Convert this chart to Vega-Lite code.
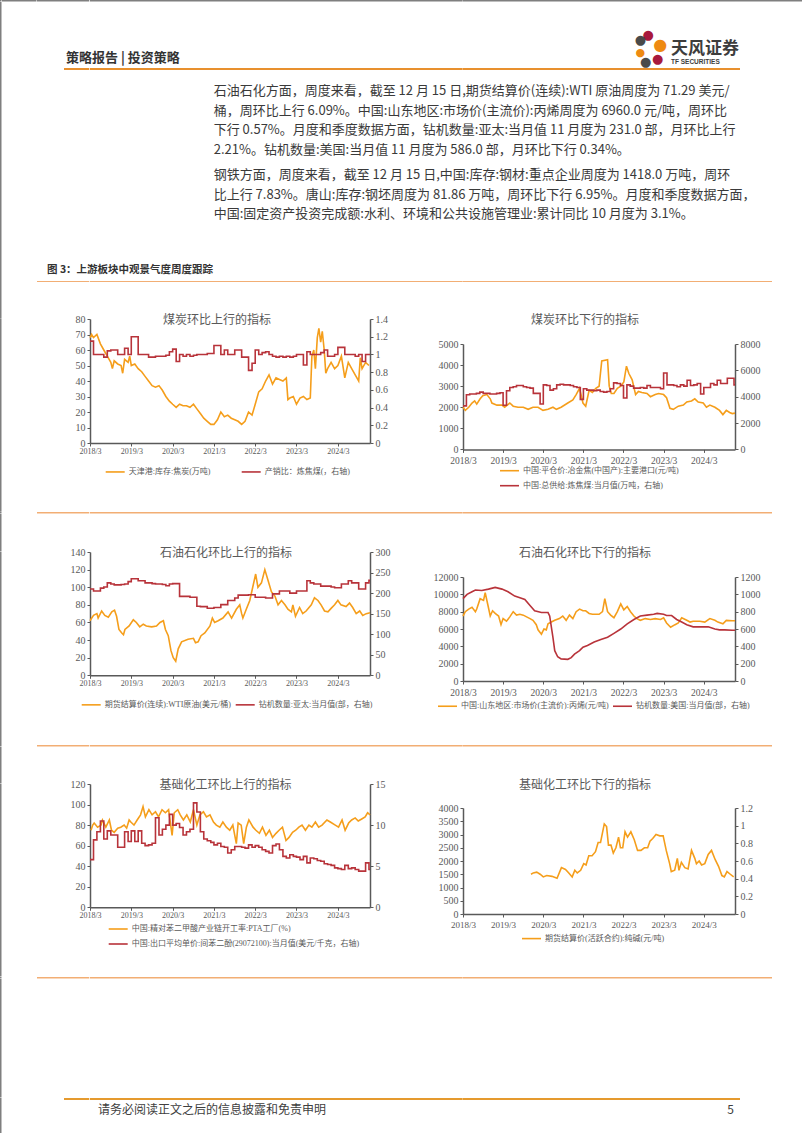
{
"$schema": "https://vega.github.io/schema/vega-lite/v6.json",
"padding": 0,
"background": "white",
"columns": 11,
"align": "each",
"bounds": "flush",
"spacing": 0,
"resolve": {"scale": {"color": "independent"}, "legend": {"color": "independent"}},
"config": {
 "view": {"stroke": null, "fill": "white", "fillOpacity": 0},
 "font": "Liberation Serif, Noto Sans CJK SC",
 "concat": {"spacing": 0},
 "axis": {"grid": false, "domainColor": "#595959", "domainWidth": 1.5, "tickColor": "#595959", "tickSize": 3, "tickWidth": 1, "labelColor": "#595959", "labelFont": "Liberation Serif, Noto Sans CJK SC", "labelFontSize": 10, "labelPadding": 2, "labelOverlap": false, "labelFlush": false},
 "legend": {"title": null, "labelFont": "Liberation Serif, Noto Sans CJK SC", "labelFontSize": 8, "labelColor": "#595959", "symbolType": "stroke", "symbolStrokeWidth": 2.5, "symbolSize": 361, "labelOffset": 3, "labelLimit": 400, "padding": 0, "rowPadding": 2},
 "title": {"font": "Noto Sans CJK SC", "fontSize": 12, "fontWeight": "normal", "color": "#595959", "frame": "group", "anchor": "middle"},
 "line": {"strokeWidth": 1.6}
},
"datasets": {
 "a1": [{"d":"2018-03","v":68},{"d":"2018-03-15","v":70},{"d":"2018-04","v":68},{"d":"2018-05","v":70},{"d":"2018-06","v":64},{"d":"2018-07","v":60},{"d":"2018-08","v":56},{"d":"2018-09","v":52},{"d":"2018-09-15","v":48},{"d":"2018-10","v":53},{"d":"2018-11","v":51},{"d":"2018-12","v":50},{"d":"2018-12-15","v":45},{"d":"2019-01","v":54},{"d":"2019-02","v":52},{"d":"2019-02-15","v":56},{"d":"2019-03","v":50},{"d":"2019-04","v":51},{"d":"2019-05","v":48},{"d":"2019-06","v":46},{"d":"2019-07","v":43},{"d":"2019-08","v":40},{"d":"2019-09","v":37},{"d":"2019-10","v":36},{"d":"2019-11","v":37},{"d":"2019-12","v":34},{"d":"2020-01","v":30},{"d":"2020-02","v":27},{"d":"2020-03","v":25},{"d":"2020-04","v":23},{"d":"2020-05","v":25},{"d":"2020-06","v":24},{"d":"2020-07","v":24},{"d":"2020-08","v":23},{"d":"2020-09","v":25},{"d":"2020-10","v":22},{"d":"2020-11","v":19},{"d":"2020-12","v":16},{"d":"2021-01","v":14},{"d":"2021-02","v":12},{"d":"2021-03","v":12},{"d":"2021-04","v":15},{"d":"2021-05","v":20},{"d":"2021-06","v":17},{"d":"2021-07","v":18},{"d":"2021-08","v":16},{"d":"2021-09","v":15},{"d":"2021-10","v":14},{"d":"2021-11","v":12},{"d":"2021-12","v":14},{"d":"2022-01","v":20},{"d":"2022-02","v":18},{"d":"2022-03","v":25},{"d":"2022-04","v":33},{"d":"2022-05","v":35},{"d":"2022-06","v":40},{"d":"2022-07","v":44},{"d":"2022-08","v":38},{"d":"2022-09","v":42},{"d":"2022-10","v":41},{"d":"2022-11","v":40},{"d":"2022-12","v":42},{"d":"2022-12-15","v":28},{"d":"2023-01","v":29},{"d":"2023-02","v":30},{"d":"2023-03","v":25},{"d":"2023-04","v":29},{"d":"2023-05","v":30},{"d":"2023-06","v":28},{"d":"2023-07","v":29},{"d":"2023-07-15","v":56},{"d":"2023-08","v":60},{"d":"2023-08-15","v":48},{"d":"2023-09","v":68},{"d":"2023-09-15","v":74},{"d":"2023-10","v":65},{"d":"2023-10-15","v":72},{"d":"2023-11","v":60},{"d":"2023-11-15","v":45},{"d":"2023-12","v":48},{"d":"2024-01","v":52},{"d":"2024-02","v":48},{"d":"2024-03","v":50},{"d":"2024-04","v":56},{"d":"2024-05","v":42},{"d":"2024-06","v":52},{"d":"2024-07","v":48},{"d":"2024-08","v":44},{"d":"2024-09","v":40},{"d":"2024-09-15","v":55},{"d":"2024-10","v":48},{"d":"2024-11","v":52},{"d":"2024-12","v":50}],
 "a2": [{"d":"2018-03","v":1.15},{"d":"2018-04","v":1.0},{"d":"2018-05","v":1.0},{"d":"2018-06","v":1.0},{"d":"2018-07","v":0.97},{"d":"2018-08","v":1.04},{"d":"2018-09","v":1.05},{"d":"2018-10","v":1.05},{"d":"2018-11","v":1.0},{"d":"2018-12","v":1.0},{"d":"2019-01","v":1.07},{"d":"2019-02","v":1.0},{"d":"2019-03","v":1.2},{"d":"2019-04","v":1.2},{"d":"2019-05","v":1.0},{"d":"2019-06","v":1.0},{"d":"2019-07","v":1.0},{"d":"2019-08","v":0.97},{"d":"2019-09","v":0.97},{"d":"2019-10","v":0.98},{"d":"2019-11","v":0.98},{"d":"2019-12","v":0.98},{"d":"2020-01","v":0.99},{"d":"2020-02","v":1.03},{"d":"2020-03","v":1.06},{"d":"2020-04","v":0.92},{"d":"2020-05","v":1.0},{"d":"2020-06","v":0.98},{"d":"2020-07","v":1.0},{"d":"2020-08","v":0.98},{"d":"2020-09","v":0.99},{"d":"2020-10","v":1.0},{"d":"2020-11","v":1.0},{"d":"2020-12","v":1.0},{"d":"2021-01","v":1.01},{"d":"2021-02","v":1.01},{"d":"2021-03","v":1.1},{"d":"2021-04","v":1.1},{"d":"2021-05","v":1.0},{"d":"2021-06","v":1.05},{"d":"2021-07","v":1.0},{"d":"2021-08","v":1.0},{"d":"2021-09","v":1.05},{"d":"2021-10","v":1.05},{"d":"2021-11","v":0.97},{"d":"2021-12","v":0.97},{"d":"2022-01","v":0.82},{"d":"2022-02","v":0.9},{"d":"2022-03","v":1.05},{"d":"2022-04","v":1.0},{"d":"2022-05","v":1.02},{"d":"2022-06","v":1.03},{"d":"2022-07","v":1.0},{"d":"2022-08","v":0.98},{"d":"2022-09","v":0.97},{"d":"2022-10","v":0.98},{"d":"2022-11","v":0.97},{"d":"2022-12","v":0.98},{"d":"2023-01","v":0.97},{"d":"2023-02","v":0.98},{"d":"2023-03","v":1.0},{"d":"2023-04","v":1.0},{"d":"2023-05","v":0.88},{"d":"2023-06","v":1.03},{"d":"2023-07","v":1.0},{"d":"2023-08","v":1.0},{"d":"2023-09","v":1.0},{"d":"2023-10","v":1.02},{"d":"2023-11","v":1.05},{"d":"2023-12","v":0.98},{"d":"2024-01","v":0.98},{"d":"2024-02","v":1.0},{"d":"2024-03","v":1.08},{"d":"2024-04","v":1.08},{"d":"2024-05","v":1.0},{"d":"2024-06","v":1.0},{"d":"2024-07","v":1.0},{"d":"2024-08","v":0.98},{"d":"2024-09","v":1.0},{"d":"2024-10","v":0.92},{"d":"2024-11","v":1.0},{"d":"2024-12","v":1.0},{"d":"2024-12-10","v":1.0}],
 "b1": [{"d":"2018-03","v":2000},{"d":"2018-03-22","v":1850},{"d":"2018-04-22","v":2000},{"d":"2018-05-22","v":2200},{"d":"2018-06-15","v":2300},{"d":"2018-07-04","v":2150},{"d":"2018-08-04","v":2400},{"d":"2018-08-28","v":2550},{"d":"2018-10-04","v":2600},{"d":"2018-11-04","v":2400},{"d":"2018-11-19","v":2200},{"d":"2019-01-04","v":2100},{"d":"2019-02-19","v":2100},{"d":"2019-03-15","v":2000},{"d":"2019-05","v":2200},{"d":"2019-06","v":2050},{"d":"2019-07-15","v":2000},{"d":"2019-09","v":2000},{"d":"2019-10-15","v":1900},{"d":"2019-11-28","v":2000},{"d":"2020-01-13","v":2000},{"d":"2020-02-27","v":1850},{"d":"2020-04-13","v":1900},{"d":"2020-05-28","v":2000},{"d":"2020-06-28","v":1900},{"d":"2020-08-10","v":2000},{"d":"2020-10-10","v":2200},{"d":"2020-11-25","v":2350},{"d":"2020-12-25","v":2600},{"d":"2021-01-25","v":2900},{"d":"2021-02-25","v":2200},{"d":"2021-03-22","v":2050},{"d":"2021-04-22","v":2800},{"d":"2021-05-22","v":2700},{"d":"2021-06-22","v":2900},{"d":"2021-07-22","v":3000},{"d":"2021-08-15","v":4200},{"d":"2021-10-07","v":4250},{"d":"2021-10-22","v":3000},{"d":"2021-11-10","v":2650},{"d":"2021-12-04","v":2650},{"d":"2022-01-04","v":2900},{"d":"2022-02-04","v":3000},{"d":"2022-03-04","v":3200},{"d":"2022-03-28","v":3950},{"d":"2022-04-19","v":3600},{"d":"2022-05-19","v":3300},{"d":"2022-06-19","v":2600},{"d":"2022-07-15","v":2750},{"d":"2022-08-15","v":2700},{"d":"2022-10","v":2650},{"d":"2022-11","v":2500},{"d":"2022-12-15","v":2600},{"d":"2023-01-15","v":2650},{"d":"2023-03","v":2600},{"d":"2023-03-28","v":2450},{"d":"2023-04-28","v":1950},{"d":"2023-05-28","v":1900},{"d":"2023-07-13","v":2050},{"d":"2023-08-28","v":2100},{"d":"2023-09-28","v":2250},{"d":"2023-11-10","v":2300},{"d":"2023-12-10","v":2400},{"d":"2024-01-10","v":2250},{"d":"2024-02-25","v":2200},{"d":"2024-03-25","v":2000},{"d":"2024-04-25","v":2100},{"d":"2024-06-10","v":2000},{"d":"2024-07-22","v":1850},{"d":"2024-08-22","v":1650},{"d":"2024-09-22","v":1850},{"d":"2024-10-22","v":1750},{"d":"2024-11-15","v":1700},{"d":"2024-12-10","v":1720}],
 "b2": [{"d":"2018-03","v":3300},{"d":"2018-04","v":4150},{"d":"2018-05","v":4200},{"d":"2018-06","v":4200},{"d":"2018-07","v":4250},{"d":"2018-08","v":4350},{"d":"2018-09","v":4250},{"d":"2018-10","v":4250},{"d":"2018-11","v":4200},{"d":"2018-12","v":4200},{"d":"2019-01","v":4250},{"d":"2019-02","v":4300},{"d":"2019-03","v":3350},{"d":"2019-04","v":4450},{"d":"2019-05","v":4700},{"d":"2019-06","v":4750},{"d":"2019-07","v":4850},{"d":"2019-08","v":4850},{"d":"2019-09","v":4750},{"d":"2019-10","v":4700},{"d":"2019-11","v":4650},{"d":"2019-12","v":4250},{"d":"2020-01","v":4250},{"d":"2020-02","v":3450},{"d":"2020-03","v":4900},{"d":"2020-04","v":4850},{"d":"2020-05","v":4500},{"d":"2020-06","v":4600},{"d":"2020-07","v":4900},{"d":"2020-08","v":4950},{"d":"2020-09","v":4900},{"d":"2020-10","v":4900},{"d":"2020-11","v":4850},{"d":"2020-12","v":4750},{"d":"2021-01","v":4700},{"d":"2021-02","v":3800},{"d":"2021-03","v":4600},{"d":"2021-04","v":4500},{"d":"2021-05","v":4500},{"d":"2021-06","v":4450},{"d":"2021-07","v":4500},{"d":"2021-08","v":4400},{"d":"2021-09","v":4350},{"d":"2021-10","v":4400},{"d":"2021-11","v":4600},{"d":"2021-12","v":5050},{"d":"2022-01","v":5000},{"d":"2022-02","v":4850},{"d":"2022-03","v":3900},{"d":"2022-04","v":4900},{"d":"2022-05","v":4800},{"d":"2022-06","v":4650},{"d":"2022-07","v":4650},{"d":"2022-08","v":4700},{"d":"2022-09","v":4650},{"d":"2022-10","v":4850},{"d":"2022-11","v":4700},{"d":"2022-12","v":4700},{"d":"2023-01","v":4700},{"d":"2023-02","v":4600},{"d":"2023-03","v":5800},{"d":"2023-04","v":4900},{"d":"2023-05","v":4900},{"d":"2023-06","v":4850},{"d":"2023-07","v":4750},{"d":"2023-08","v":4900},{"d":"2023-09","v":4800},{"d":"2023-10","v":5250},{"d":"2023-11","v":4850},{"d":"2023-12","v":4900},{"d":"2024-01","v":5000},{"d":"2024-02","v":4200},{"d":"2024-03","v":4700},{"d":"2024-04","v":4700},{"d":"2024-05","v":5000},{"d":"2024-06","v":4900},{"d":"2024-07","v":5250},{"d":"2024-08","v":5000},{"d":"2024-09","v":5000},{"d":"2024-10","v":5400},{"d":"2024-11","v":5400},{"d":"2024-12","v":4900},{"d":"2024-12-10","v":4900}],
 "c1": [{"d":"2018-03","v":62},{"d":"2018-04","v":68},{"d":"2018-05","v":70},{"d":"2018-05-12","v":65},{"d":"2018-06-12","v":73},{"d":"2018-07-10","v":68},{"d":"2018-08-10","v":66},{"d":"2018-09-10","v":72},{"d":"2018-10-04","v":74},{"d":"2018-10-22","v":67},{"d":"2018-11-12","v":52},{"d":"2018-12-07","v":48},{"d":"2018-12-22","v":46},{"d":"2019-01-04","v":52},{"d":"2019-02-10","v":56},{"d":"2019-03-19","v":63},{"d":"2019-04-15","v":60},{"d":"2019-05-15","v":55},{"d":"2019-06-15","v":58},{"d":"2019-07-12","v":56},{"d":"2019-08-28","v":55},{"d":"2019-10-10","v":56},{"d":"2019-11-10","v":60},{"d":"2019-12-10","v":62},{"d":"2019-12-28","v":52},{"d":"2020-01-22","v":45},{"d":"2020-02-15","v":28},{"d":"2020-03-06","v":20},{"d":"2020-03-28","v":16},{"d":"2020-04-19","v":30},{"d":"2020-05-19","v":38},{"d":"2020-07-15","v":41},{"d":"2020-09","v":42},{"d":"2020-09-19","v":37},{"d":"2020-10-12","v":38},{"d":"2020-11-07","v":45},{"d":"2020-12-10","v":48},{"d":"2021-01-25","v":56},{"d":"2021-02-15","v":65},{"d":"2021-03-07","v":60},{"d":"2021-04-07","v":62},{"d":"2021-05-19","v":65},{"d":"2021-07-04","v":72},{"d":"2021-08-04","v":65},{"d":"2021-09-15","v":75},{"d":"2021-10-15","v":80},{"d":"2021-11","v":70},{"d":"2021-11-12","v":65},{"d":"2021-12-12","v":75},{"d":"2022-01-12","v":85},{"d":"2022-03-05","v":115},{"d":"2022-03-25","v":100},{"d":"2022-04-25","v":105},{"d":"2022-05-25","v":120},{"d":"2022-06-22","v":108},{"d":"2022-07-22","v":95},{"d":"2022-08-22","v":90},{"d":"2022-09-19","v":80},{"d":"2022-10-19","v":85},{"d":"2022-11-19","v":80},{"d":"2022-12-15","v":75},{"d":"2023-01-15","v":72},{"d":"2023-01-28","v":80},{"d":"2023-02-20","v":67},{"d":"2023-03-28","v":77},{"d":"2023-04-25","v":70},{"d":"2023-05-25","v":73},{"d":"2023-07-10","v":80},{"d":"2023-08-07","v":88},{"d":"2023-09-07","v":85},{"d":"2023-10-04","v":80},{"d":"2023-11-04","v":73},{"d":"2023-12-04","v":72},{"d":"2024-01","v":76},{"d":"2024-02","v":80},{"d":"2024-03","v":85},{"d":"2024-03-28","v":80},{"d":"2024-05-12","v":78},{"d":"2024-06-12","v":82},{"d":"2024-07-10","v":77},{"d":"2024-08-10","v":70},{"d":"2024-09-10","v":73},{"d":"2024-10-07","v":68},{"d":"2024-11-07","v":70},{"d":"2024-12-10","v":71}],
 "c2": [{"d":"2018-03","v":210},{"d":"2018-04","v":205},{"d":"2018-05","v":205},{"d":"2018-06","v":212},{"d":"2018-07","v":215},{"d":"2018-08","v":225},{"d":"2018-09","v":222},{"d":"2018-10","v":220},{"d":"2018-11","v":220},{"d":"2018-12","v":221},{"d":"2019-01","v":222},{"d":"2019-02","v":228},{"d":"2019-03","v":235},{"d":"2019-04","v":235},{"d":"2019-05","v":230},{"d":"2019-06","v":230},{"d":"2019-07","v":225},{"d":"2019-08","v":225},{"d":"2019-09","v":223},{"d":"2019-10","v":222},{"d":"2019-11","v":222},{"d":"2019-12","v":221},{"d":"2020-01","v":218},{"d":"2020-02","v":222},{"d":"2020-03","v":223},{"d":"2020-04","v":223},{"d":"2020-05","v":192},{"d":"2020-06","v":192},{"d":"2020-07","v":192},{"d":"2020-08","v":190},{"d":"2020-09","v":190},{"d":"2020-10","v":168},{"d":"2020-11","v":167},{"d":"2020-12","v":167},{"d":"2021-01","v":163},{"d":"2021-02","v":163},{"d":"2021-03","v":165},{"d":"2021-04","v":165},{"d":"2021-05","v":172},{"d":"2021-06","v":172},{"d":"2021-07","v":182},{"d":"2021-08","v":182},{"d":"2021-09","v":188},{"d":"2021-10","v":195},{"d":"2021-11","v":195},{"d":"2021-12","v":195},{"d":"2022-01","v":196},{"d":"2022-02","v":196},{"d":"2022-03","v":190},{"d":"2022-04","v":190},{"d":"2022-05","v":190},{"d":"2022-06","v":188},{"d":"2022-07","v":188},{"d":"2022-08","v":198},{"d":"2022-09","v":198},{"d":"2022-10","v":205},{"d":"2022-11","v":205},{"d":"2022-12","v":205},{"d":"2023-01","v":200},{"d":"2023-02","v":200},{"d":"2023-03","v":205},{"d":"2023-04","v":205},{"d":"2023-05","v":205},{"d":"2023-06","v":230},{"d":"2023-07","v":225},{"d":"2023-08","v":222},{"d":"2023-09","v":222},{"d":"2023-10","v":217},{"d":"2023-11","v":217},{"d":"2023-12","v":217},{"d":"2024-01","v":215},{"d":"2024-02","v":213},{"d":"2024-03","v":213},{"d":"2024-04","v":222},{"d":"2024-05","v":222},{"d":"2024-06","v":230},{"d":"2024-07","v":225},{"d":"2024-08","v":225},{"d":"2024-09","v":210},{"d":"2024-10","v":210},{"d":"2024-11","v":225},{"d":"2024-12","v":231},{"d":"2024-12-10","v":231}],
 "d1": [{"d":"2018-03","v":7500},{"d":"2018-03-22","v":8000},{"d":"2018-04-22","v":8300},{"d":"2018-05-22","v":8500},{"d":"2018-06-22","v":8000},{"d":"2018-07-04","v":8300},{"d":"2018-08-04","v":9500},{"d":"2018-09-04","v":9300},{"d":"2018-09-19","v":10200},{"d":"2018-10-13","v":8800},{"d":"2018-11-04","v":7500},{"d":"2018-11-25","v":8100},{"d":"2018-12-19","v":7800},{"d":"2019-01-19","v":7500},{"d":"2019-02-10","v":6500},{"d":"2019-03","v":7200},{"d":"2019-04","v":6900},{"d":"2019-05","v":7400},{"d":"2019-06","v":8000},{"d":"2019-07","v":7600},{"d":"2019-08","v":7700},{"d":"2019-09","v":7600},{"d":"2019-10","v":7400},{"d":"2019-11","v":7200},{"d":"2019-11-28","v":7000},{"d":"2019-12-28","v":6500},{"d":"2020-01-13","v":5900},{"d":"2020-02-13","v":5400},{"d":"2020-03-07","v":6000},{"d":"2020-03-28","v":5900},{"d":"2020-04-13","v":6600},{"d":"2020-05-13","v":6800},{"d":"2020-06-13","v":7000},{"d":"2020-07-25","v":7200},{"d":"2020-08-25","v":7500},{"d":"2020-09-25","v":7000},{"d":"2020-10-25","v":7600},{"d":"2020-11-25","v":7200},{"d":"2020-12-25","v":8000},{"d":"2021-01-25","v":8300},{"d":"2021-02-25","v":8100},{"d":"2021-03-22","v":8100},{"d":"2021-04-22","v":7800},{"d":"2021-05-22","v":7700},{"d":"2021-07-22","v":7700},{"d":"2021-08-22","v":8000},{"d":"2021-09-12","v":9500},{"d":"2021-10-07","v":8000},{"d":"2021-11-04","v":7600},{"d":"2021-12-04","v":7300},{"d":"2022-01-04","v":8000},{"d":"2022-02-04","v":8900},{"d":"2022-03-04","v":8200},{"d":"2022-04-04","v":8600},{"d":"2022-05-04","v":8000},{"d":"2022-06-04","v":7500},{"d":"2022-07","v":7200},{"d":"2022-08","v":7000},{"d":"2022-09-15","v":7200},{"d":"2022-11","v":7100},{"d":"2022-12-15","v":7200},{"d":"2023-02","v":7100},{"d":"2023-03","v":7300},{"d":"2023-03-28","v":6700},{"d":"2023-05-04","v":6200},{"d":"2023-06-13","v":6500},{"d":"2023-07-13","v":6700},{"d":"2023-08-13","v":7300},{"d":"2023-09-28","v":7000},{"d":"2023-10-28","v":6800},{"d":"2023-11-25","v":6900},{"d":"2024-01-25","v":6900},{"d":"2024-03-10","v":6800},{"d":"2024-04-25","v":7200},{"d":"2024-06-10","v":7000},{"d":"2024-07-07","v":6800},{"d":"2024-08-22","v":6600},{"d":"2024-09-22","v":7000},{"d":"2024-11-15","v":6960},{"d":"2024-12-10","v":6960}],
 "d2": [{"d":"2018-03","v":950},{"d":"2018-04-07","v":1000},{"d":"2018-05-22","v":1030},{"d":"2018-06-22","v":1050},{"d":"2018-08-19","v":1045},{"d":"2018-10-19","v":1060},{"d":"2018-12-19","v":1080},{"d":"2019-02-19","v":1060},{"d":"2019-04-15","v":1030},{"d":"2019-06-15","v":980},{"d":"2019-08","v":960},{"d":"2019-09-15","v":940},{"d":"2019-11","v":870},{"d":"2019-12-13","v":810},{"d":"2020-02-13","v":790},{"d":"2020-04-13","v":790},{"d":"2020-04-28","v":750},{"d":"2020-05-28","v":500},{"d":"2020-06-13","v":350},{"d":"2020-07-10","v":280},{"d":"2020-08-10","v":255},{"d":"2020-10-10","v":250},{"d":"2020-11-10","v":270},{"d":"2020-12-10","v":310},{"d":"2021-01-25","v":350},{"d":"2021-02-25","v":390},{"d":"2021-04-07","v":410},{"d":"2021-06-07","v":450},{"d":"2021-08-07","v":480},{"d":"2021-10-07","v":505},{"d":"2021-12-04","v":550},{"d":"2022-02-04","v":600},{"d":"2022-04-04","v":660},{"d":"2022-06-04","v":710},{"d":"2022-08","v":750},{"d":"2022-10","v":760},{"d":"2022-12","v":770},{"d":"2023-01","v":780},{"d":"2023-03","v":770},{"d":"2023-03-28","v":755},{"d":"2023-05-13","v":755},{"d":"2023-06-28","v":710},{"d":"2023-08-13","v":680},{"d":"2023-09-28","v":650},{"d":"2023-11-25","v":625},{"d":"2024-01-25","v":625},{"d":"2024-04-10","v":625},{"d":"2024-06-10","v":600},{"d":"2024-07-22","v":590},{"d":"2024-09-07","v":590},{"d":"2024-11-15","v":586},{"d":"2024-12-10","v":586}],
 "e1": [{"d":"2018-03-10","v":75},{"d":"2018-03-25","v":80},{"d":"2018-04-07","v":82},{"d":"2018-05-07","v":78},{"d":"2018-06-07","v":80},{"d":"2018-06-19","v":85},{"d":"2018-07-19","v":78},{"d":"2018-08-19","v":85},{"d":"2018-09-07","v":75},{"d":"2018-10","v":73},{"d":"2018-11","v":77},{"d":"2018-11-28","v":78},{"d":"2018-12-28","v":80},{"d":"2019-01-19","v":77},{"d":"2019-02-10","v":85},{"d":"2019-02-25","v":83},{"d":"2019-03-25","v":80},{"d":"2019-04-22","v":85},{"d":"2019-05-22","v":90},{"d":"2019-06-13","v":98},{"d":"2019-07-04","v":88},{"d":"2019-08-04","v":95},{"d":"2019-09","v":90},{"d":"2019-10","v":93},{"d":"2019-10-28","v":88},{"d":"2019-11-28","v":95},{"d":"2019-12-28","v":92},{"d":"2020-01-25","v":95},{"d":"2020-02-25","v":70},{"d":"2020-03-15","v":92},{"d":"2020-04-15","v":95},{"d":"2020-05-07","v":90},{"d":"2020-06-04","v":85},{"d":"2020-07-04","v":90},{"d":"2020-08-04","v":83},{"d":"2020-09","v":95},{"d":"2020-10","v":80},{"d":"2020-10-28","v":90},{"d":"2020-11-28","v":93},{"d":"2020-12-25","v":88},{"d":"2021-01-25","v":90},{"d":"2021-02-25","v":83},{"d":"2021-03-22","v":80},{"d":"2021-04-22","v":78},{"d":"2021-05-19","v":83},{"d":"2021-06-19","v":78},{"d":"2021-07-19","v":75},{"d":"2021-08-15","v":80},{"d":"2021-09-15","v":62},{"d":"2021-10","v":82},{"d":"2021-10-28","v":80},{"d":"2021-11-19","v":62},{"d":"2021-12-13","v":78},{"d":"2022-01-04","v":85},{"d":"2022-02-10","v":78},{"d":"2022-03-07","v":75},{"d":"2022-04-07","v":72},{"d":"2022-05-04","v":78},{"d":"2022-06-04","v":70},{"d":"2022-07-04","v":75},{"d":"2022-08","v":68},{"d":"2022-09","v":72},{"d":"2022-09-28","v":75},{"d":"2022-10-28","v":78},{"d":"2022-11-28","v":65},{"d":"2022-12-25","v":68},{"d":"2023-01-25","v":73},{"d":"2023-02-22","v":75},{"d":"2023-03-22","v":78},{"d":"2023-04-19","v":80},{"d":"2023-05-19","v":75},{"d":"2023-06-19","v":80},{"d":"2023-07-15","v":78},{"d":"2023-08-15","v":83},{"d":"2023-09-13","v":78},{"d":"2023-10-13","v":80},{"d":"2023-11-25","v":85},{"d":"2023-12-25","v":83},{"d":"2024-02-07","v":80},{"d":"2024-03-07","v":78},{"d":"2024-04-07","v":85},{"d":"2024-05-04","v":75},{"d":"2024-06-04","v":82},{"d":"2024-07","v":85},{"d":"2024-08","v":87},{"d":"2024-08-28","v":84},{"d":"2024-09-28","v":86},{"d":"2024-10-28","v":88},{"d":"2024-11-19","v":92},{"d":"2024-12-10","v":90}],
 "e2": [{"d":"2018-03","v":5.8},{"d":"2018-04","v":8.2},{"d":"2018-05","v":9.2},{"d":"2018-06","v":10.5},{"d":"2018-07","v":8.3},{"d":"2018-08","v":9.3},{"d":"2018-09","v":8.8},{"d":"2018-10","v":8.8},{"d":"2018-11","v":7.3},{"d":"2018-12","v":7.3},{"d":"2019-01","v":9.2},{"d":"2019-02","v":8.0},{"d":"2019-03","v":9.3},{"d":"2019-04","v":8.0},{"d":"2019-05","v":9.3},{"d":"2019-06","v":7.8},{"d":"2019-07","v":7.5},{"d":"2019-08","v":7.6},{"d":"2019-09","v":7.8},{"d":"2019-10","v":10.9},{"d":"2019-11","v":8.8},{"d":"2019-12","v":9.5},{"d":"2020-01","v":10.0},{"d":"2020-02","v":11.3},{"d":"2020-03","v":10.0},{"d":"2020-04","v":10.2},{"d":"2020-05","v":9.7},{"d":"2020-06","v":8.8},{"d":"2020-07","v":9.2},{"d":"2020-08","v":9.5},{"d":"2020-09","v":12.7},{"d":"2020-10","v":11.6},{"d":"2020-11","v":9.2},{"d":"2020-12","v":8.3},{"d":"2021-01","v":8.1},{"d":"2021-02","v":7.9},{"d":"2021-03","v":7.6},{"d":"2021-04","v":7.8},{"d":"2021-05","v":7.4},{"d":"2021-06","v":7.3},{"d":"2021-07","v":6.6},{"d":"2021-08","v":7.0},{"d":"2021-09","v":7.4},{"d":"2021-10","v":7.4},{"d":"2021-11","v":7.3},{"d":"2021-12","v":7.2},{"d":"2022-01","v":7.6},{"d":"2022-02","v":7.3},{"d":"2022-03","v":7.5},{"d":"2022-04","v":7.3},{"d":"2022-05","v":7.0},{"d":"2022-06","v":6.8},{"d":"2022-07","v":6.6},{"d":"2022-08","v":7.5},{"d":"2022-09","v":7.7},{"d":"2022-10","v":7.0},{"d":"2022-11","v":6.2},{"d":"2022-12","v":6.0},{"d":"2023-01","v":6.4},{"d":"2023-02","v":6.2},{"d":"2023-03","v":6.1},{"d":"2023-04","v":5.8},{"d":"2023-05","v":6.2},{"d":"2023-06","v":5.4},{"d":"2023-07","v":6.0},{"d":"2023-08","v":5.9},{"d":"2023-09","v":5.7},{"d":"2023-10","v":5.6},{"d":"2023-11","v":5.3},{"d":"2023-12","v":5.2},{"d":"2024-01","v":5.1},{"d":"2024-02","v":4.8},{"d":"2024-03","v":4.7},{"d":"2024-04","v":4.6},{"d":"2024-05","v":5.1},{"d":"2024-06","v":4.7},{"d":"2024-07","v":4.8},{"d":"2024-08","v":4.6},{"d":"2024-09","v":4.4},{"d":"2024-10","v":4.4},{"d":"2024-11","v":5.4},{"d":"2024-12","v":4.6},{"d":"2024-12-10","v":4.6}],
 "f1": [{"d":"2019-11-10","v":1500},{"d":"2019-12","v":1550},{"d":"2020-01","v":1580},{"d":"2020-02","v":1500},{"d":"2020-03","v":1400},{"d":"2020-04","v":1450},{"d":"2020-05-19","v":1420},{"d":"2020-07-04","v":1350},{"d":"2020-08-13","v":1750},{"d":"2020-09-19","v":1680},{"d":"2020-10-19","v":1550},{"d":"2020-11-19","v":1400},{"d":"2020-12-13","v":1650},{"d":"2021-01-04","v":1550},{"d":"2021-02-04","v":1650},{"d":"2021-03-04","v":1900},{"d":"2021-03-25","v":1850},{"d":"2021-04-19","v":2200},{"d":"2021-05-19","v":2200},{"d":"2021-06-19","v":2350},{"d":"2021-07-13","v":2700},{"d":"2021-08-04","v":2700},{"d":"2021-09-07","v":3400},{"d":"2021-09-28","v":3300},{"d":"2021-10-15","v":2600},{"d":"2021-11-07","v":2600},{"d":"2021-11-28","v":2300},{"d":"2021-12-22","v":2500},{"d":"2022-01-15","v":2900},{"d":"2022-02","v":2500},{"d":"2022-02-22","v":2500},{"d":"2022-03-15","v":3100},{"d":"2022-04-07","v":2900},{"d":"2022-05-07","v":3100},{"d":"2022-06-07","v":2800},{"d":"2022-07-07","v":2400},{"d":"2022-08-07","v":2400},{"d":"2022-09-07","v":2500},{"d":"2022-10-07","v":2500},{"d":"2022-10-28","v":2750},{"d":"2022-11-22","v":2850},{"d":"2022-12-22","v":3000},{"d":"2023-01-25","v":2950},{"d":"2023-02-25","v":2950},{"d":"2023-03-25","v":2400},{"d":"2023-04-25","v":1900},{"d":"2023-05-10","v":1600},{"d":"2023-06-10","v":1650},{"d":"2023-07-04","v":2100},{"d":"2023-07-19","v":1650},{"d":"2023-08-10","v":1950},{"d":"2023-09-10","v":1750},{"d":"2023-10-10","v":1700},{"d":"2023-11-10","v":2400},{"d":"2023-12-10","v":2100},{"d":"2023-12-25","v":1900},{"d":"2024-01-19","v":2000},{"d":"2024-02-10","v":1850},{"d":"2024-03-10","v":1900},{"d":"2024-04-10","v":2250},{"d":"2024-05-10","v":2400},{"d":"2024-06-13","v":2050},{"d":"2024-07-13","v":1800},{"d":"2024-08-13","v":1450},{"d":"2024-09-04","v":1400},{"d":"2024-09-28","v":1600},{"d":"2024-10-28","v":1500},{"d":"2024-11-28","v":1400}]
},
"concat": [
 {"width":1.5,"height":1.5,"data":{"values":[]},"mark":"point","view":{"fill":"#7F7F7F","fillOpacity":1}},
 {"width":34.5,"height":1.5,"data":{"values":[]},"mark":"point","view":{"fill":"#7F7F7F","fillOpacity":1}},
 {"width":27,"height":1.5,"data":{"values":[]},"mark":"point","view":{"fill":"#7F7F7F","fillOpacity":1}},
 {"width":25.3,"height":1.5,"data":{"values":[]},"mark":"point","view":{"fill":"#7F7F7F","fillOpacity":1}},
 {"width":280,"height":1.5,"data":{"values":[]},"mark":"point","view":{"fill":"#7F7F7F","fillOpacity":1}},
 {"width":92.7,"height":1.5,"data":{"values":[]},"mark":"point","view":{"fill":"#7F7F7F","fillOpacity":1}},
 {"width":272,"height":1.5,"data":{"values":[]},"mark":"point","view":{"fill":"#7F7F7F","fillOpacity":1}},
 {"width":5,"height":1.5,"data":{"values":[]},"mark":"point","view":{"fill":"#7F7F7F","fillOpacity":1}},
 {"width":32,"height":1.5,"data":{"values":[]},"mark":"point","view":{"fill":"#7F7F7F","fillOpacity":1}},
 {"width":30.5,"height":1.5,"data":{"values":[]},"mark":"point","view":{"fill":"#7F7F7F","fillOpacity":1}},
 {"width":1.5,"height":1.5,"data":{"values":[]},"mark":"point","view":{"fill":"#7F7F7F","fillOpacity":1}},

 {"width":1.5,"height":66,"data":{"values":[]},"mark":"point","view":{"fill":"#7F7F7F","fillOpacity":1}},
 {"width":34.5,"height":1,"data":{"values":[]},"mark":"point"},
 {"width":27,"height":1,"data":{"values":[]},"mark":"point"},
 {"width":25.3,"height":1,"data":{"values":[]},"mark":"point"},
 {"width":280,"height":1,"data":{"values":[]},"mark":"point"},
 {"width":92.7,"height":1,"data":{"values":[]},"mark":"point"},
 {"width":272,"height":1,"data":{"values":[]},"mark":"point"},
 {"width":5,"height":1,"data":{"values":[]},"mark":"point"},
 {"width":32,"height":1,"data":{"values":[]},"mark":"point"},
 {"width":30.5,"height":1,"data":{"values":[]},"mark":"point"},
 {"width":1.5,"height":66,"data":{"values":[]},"mark":"point","view":{"fill":"#7F7F7F","fillOpacity":1}},

 {"width":1.5,"height":2,"data":{"values":[]},"mark":"point","view":{"fill":"#7F7F7F","fillOpacity":1}},
 {"width":34.5,"height":1,"data":{"values":[]},"mark":"point",
  "title": {"text": "●", "anchor": "start", "dx": 640.6, "offset": 26, "fontSize": 13, "font": "DejaVu Sans", "color": "#A8193D"}},
 {"width":27,"height":1,"data":{"values":[]},"mark":"point",
  "title": {"text": "●", "anchor": "start", "dx": 616.2, "offset": 15.5, "fontSize": 16, "font": "DejaVu Sans", "color": "#EE8A12"}},
 {"width":25.3,"height":2,"data":{"values":[]},"mark":"point","view":{"fill":"#E8902E","fillOpacity":1},
  "title": {"text": "策略报告 | 投资策略", "anchor": "start", "dx": 2, "offset": 3.5, "fontSize": 13, "fontWeight": "bold", "color": "#333333", "font": "Noto Sans CJK SC"}},
 {"width":280,"height":2,"data":{"values":[]},"mark":"point","view":{"fill":"#E8902E","fillOpacity":1},
  "title": {"text": "●", "anchor": "start", "dx": 544.8, "offset": 21, "fontSize": 13, "font": "DejaVu Sans", "color": "#4A4A4A"}},
 {"width":92.7,"height":2,"data":{"values":[]},"mark":"point","view":{"fill":"#E8902E","fillOpacity":1},
  "title": {"text": "●", "anchor": "start", "dx": 265.4, "offset": 10, "fontSize": 11, "font": "DejaVu Sans", "color": "#EE8A12"}},
 {"width":272,"height":2,"data":{"values":[]},"mark":"point","view":{"fill":"#E8902E","fillOpacity":1},
  "title": {"text": "天风证券", "subtitle": "TF SECURITIES", "anchor": "start", "dx": 208, "offset": 2, "fontSize": 17, "fontWeight": "bold", "color": "#3d3d3d", "font": "Noto Sans CJK SC", "subtitleFont": "Liberation Sans", "subtitleFontSize": 6.5, "subtitleFontWeight": "bold", "subtitleColor": "#3d3d3d", "subtitlePadding": 1}},
 {"width":5,"height":2,"data":{"values":[]},"mark":"point","view":{"fill":"#E8902E","fillOpacity":1},
  "title": {"text": "●", "anchor": "start", "dx": -94.9, "offset": -1, "fontSize": 13, "font": "DejaVu Sans", "color": "#4A4A4A"}},
 {"width":32,"height":1,"data":{"values":[]},"mark":"point",
  "title": {"text": "●", "anchor": "start", "dx": -87.9, "offset": 2, "fontSize": 13, "font": "DejaVu Sans", "color": "#A8193D"}},
 {"width":30.5,"height":1,"data":{"values":[]},"mark":"point"},
 {"width":1.5,"height":2,"data":{"values":[]},"mark":"point","view":{"fill":"#7F7F7F","fillOpacity":1}},

 {"width":1.5,"height":211,"data":{"values":[]},"mark":"point","view":{"fill":"#7F7F7F","fillOpacity":1}},
 {"width":34.5,"height":1,"data":{"values":[]},"mark":"point"},
 {"width":27,"height":1,"data":{"values":[]},"mark":"point"},
 {"width":25.3,"height":1,"data":{"values":[]},"mark":"point"},
 {"width":280,"height":1,"data":{"values":[]},"mark":"point",
  "title": {"text": ["石油石化方面，周度来看，截至 12 月 15 日,期货结算价(连续):WTI 原油周度为 71.29 美元/", "桶，周环比上行 6.09%。中国:山东地区:市场价(主流价):丙烯周度为 6960.0 元/吨，周环比", "下行 0.57%。月度和季度数据方面，钻机数量:亚太:当月值 11 月度为 231.0 部，月环比上行", "2.21%。钻机数量:美国:当月值 11 月度为 586.0 部，月环比下行 0.34%。"],
    "subtitle": ["钢铁方面，周度来看，截至 12 月 15 日,中国:库存:钢材:重点企业周度为 1418.0 万吨，周环", "比上行 7.83%。唐山:库存:钢坯周度为 81.86 万吨，周环比下行 6.95%。月度和季度数据方面，", "中国:固定资产投资完成额:水利、环境和公共设施管理业:累计同比 10 月度为 3.1%。"],
    "orient": "bottom", "anchor": "start", "dx": 123.7, "offset": 14, "fontSize": 13, "font": "Noto Sans CJK SC", "fontWeight": "normal", "color": "#3a3a3a", "lineHeight": 19.5,
    "subtitleFont": "Noto Sans CJK SC", "subtitleFontSize": 13, "subtitleColor": "#3a3a3a", "subtitleLineHeight": 19.5, "subtitlePadding": 12.7}},
 {"width":92.7,"height":1,"data":{"values":[]},"mark":"point"},
 {"width":272,"height":1,"data":{"values":[]},"mark":"point"},
 {"width":5,"height":1,"data":{"values":[]},"mark":"point"},
 {"width":32,"height":1,"data":{"values":[]},"mark":"point"},
 {"width":30.5,"height":1,"data":{"values":[]},"mark":"point"},
 {"width":1.5,"height":211,"data":{"values":[]},"mark":"point","view":{"fill":"#7F7F7F","fillOpacity":1}},

 {"width":1.5,"height":1,"data":{"values":[]},"mark":"point","view":{"fill":"#7F7F7F","fillOpacity":1}},
 {"width":34.5,"height":1,"data":{"values":[]},"mark":"point"},
 {"width":27,"height":1,"data":{"values":[]},"mark":"point","view":{"fill":"#F2AE74","fillOpacity":1},
  "title": {"text": "图 3：上游板块中观景气度周度跟踪", "anchor": "start", "dx": 10, "offset": 6, "fontSize": 10.5, "fontWeight": "bold", "color": "#333333", "font": "Noto Sans CJK SC"}},
 {"width":25.3,"height":1,"data":{"values":[]},"mark":"point","view":{"fill":"#F2AE74","fillOpacity":1}},
 {"width":280,"height":1,"data":{"values":[]},"mark":"point","view":{"fill":"#F2AE74","fillOpacity":1}},
 {"width":92.7,"height":1,"data":{"values":[]},"mark":"point","view":{"fill":"#F2AE74","fillOpacity":1}},
 {"width":272,"height":1,"data":{"values":[]},"mark":"point","view":{"fill":"#F2AE74","fillOpacity":1}},
 {"width":5,"height":1,"data":{"values":[]},"mark":"point","view":{"fill":"#F2AE74","fillOpacity":1}},
 {"width":32,"height":1,"data":{"values":[]},"mark":"point","view":{"fill":"#F2AE74","fillOpacity":1}},
 {"width":30.5,"height":1,"data":{"values":[]},"mark":"point"},
 {"width":1.5,"height":1,"data":{"values":[]},"mark":"point","view":{"fill":"#7F7F7F","fillOpacity":1}},

 {"width":1.5,"height":36.8,"data":{"values":[]},"mark":"point","view":{"fill":"#7F7F7F","fillOpacity":1}},
 {"width":34.5,"height":1,"data":{"values":[]},"mark":"point"},
 {"width":27,"height":1,"data":{"values":[]},"mark":"point"},
 {"width":25.3,"height":1,"data":{"values":[]},"mark":"point"},
 {"width":280,"height":1,"data":{"values":[]},"mark":"point"},
 {"width":92.7,"height":1,"data":{"values":[]},"mark":"point"},
 {"width":272,"height":1,"data":{"values":[]},"mark":"point"},
 {"width":5,"height":1,"data":{"values":[]},"mark":"point"},
 {"width":32,"height":1,"data":{"values":[]},"mark":"point"},
 {"width":30.5,"height":1,"data":{"values":[]},"mark":"point"},
 {"width":1.5,"height":36.8,"data":{"values":[]},"mark":"point","view":{"fill":"#7F7F7F","fillOpacity":1}},

 {"width":1.5,"height":192.7,"data":{"values":[]},"mark":"point","view":{"fill":"#7F7F7F","fillOpacity":1}},
 {"width":34.5,"height":1,"data":{"values":[]},"mark":"point"},
 {"width":27,"height":1,"data":{"values":[]},"mark":"point"},
 {"width":25.3,"height":1,"data":{"values":[]},"mark":"point"},
 {"width": 280, "height": 124,
  "title": {"text": "煤炭环比上行的指标", "offset": -12.7, "dx": -13},
  "layer": [
   {"data": {"name": "a1"}, "mark": {"type": "line", "strokeWidth": 1.6},
    "encoding": {
     "x": {"field": "d", "type": "temporal", "title": null, "scale": {"domain": [{"year": 2018, "month": 3, "date": 1}, {"year": 2024, "month": 12, "date": 10}]}, "axis": {"values": [{"year":2018,"month":3,"date":1},{"year":2019,"month":3,"date":1},{"year":2020,"month":3,"date":1},{"year":2021,"month":3,"date":1},{"year":2022,"month":3,"date":1},{"year":2023,"month":3,"date":1},{"year":2024,"month":3,"date":1}], "format": "%Y/%-m", "labelFontSize": 8, "labelPadding": 1}},
     "y": {"field": "v", "type": "quantitative", "title": null, "scale": {"domain": [0, 80]}, "axis": {"values": [0,10,20,30,40,50,60,70,80]}},
     "color": {"datum": "天津港:库存:焦炭(万吨)", "scale": {"domain": ["天津港:库存:焦炭(万吨)", "产销比：炼焦煤(，右轴)"], "range": ["#F59E1B", "#B8333A"]}, "legend": {"orient": "none", "legendX": 14.7, "legendY": 142.2, "columns": 2, "columnPadding": 27}}
    }},
   {"data": {"name": "a2"}, "mark": {"type": "line", "strokeWidth": 1.6, "interpolate": "step-after"},
    "encoding": {
     "x": {"field": "d", "type": "temporal"},
     "y": {"field": "v", "type": "quantitative", "title": null, "scale": {"domain": [0, 1.4]}, "axis": {"orient": "right", "values": [0,0.2,0.4,0.6,0.8,1,1.2,1.4], "format": "~f"}},
     "color": {"datum": "产销比：炼焦煤(，右轴)"}
    }}
  ],
  "resolve": {"scale": {"y": "independent"}}},
 {"width":92.7,"height":1,"data":{"values":[]},"mark":"point"},
 {"width": 272, "height": 130.4,
  "title": {"text": "煤炭环比下行的指标", "offset": -8.4, "dx": -14},
  "layer": [
   {"data": {"name": "b1"}, "mark": {"type": "line", "strokeWidth": 1.6},
    "encoding": {
     "x": {"field": "d", "type": "temporal", "title": null, "scale": {"domain": [{"year": 2018, "month": 3, "date": 1}, {"year": 2024, "month": 12, "date": 10}]}, "axis": {"values": [{"year":2018,"month":3,"date":1},{"year":2019,"month":3,"date":1},{"year":2020,"month":3,"date":1},{"year":2021,"month":3,"date":1},{"year":2022,"month":3,"date":1},{"year":2023,"month":3,"date":1},{"year":2024,"month":3,"date":1}], "format": "%Y/%-m", "labelFontSize": 9.5, "labelPadding": 3}},
     "y": {"field": "v", "type": "quantitative", "title": null, "scale": {"domain": [0, 5000], "range": [130.4, 25]}, "axis": {"values": [0,1000,2000,3000,4000,5000], "format": "d"}},
     "color": {"datum": "中国:平仓价:冶金焦(中国产):主要港口(元/吨)", "scale": {"domain": ["中国:平仓价:冶金焦(中国产):主要港口(元/吨)", "中国:总供给:炼焦煤:当月值(万吨，右轴)"], "range": ["#F59E1B", "#B8333A"]}, "legend": {"orient": "none", "legendX": 36, "legendY": 141.2, "columns": 1, "rowPadding": -12.6}}
    }},
   {"data": {"name": "b2"}, "mark": {"type": "line", "strokeWidth": 1.6, "interpolate": "step-after"},
    "encoding": {
     "x": {"field": "d", "type": "temporal"},
     "y": {"field": "v", "type": "quantitative", "title": null, "scale": {"domain": [0, 8000], "range": [130.4, 25]}, "axis": {"orient": "right", "values": [0,2000,4000,6000,8000], "format": "d"}},
     "color": {"datum": "中国:总供给:炼焦煤:当月值(万吨，右轴)"}
    }}
  ],
  "resolve": {"scale": {"y": "independent"}}},
 {"width":5,"height":1,"data":{"values":[]},"mark":"point"},
 {"width":32,"height":1,"data":{"values":[]},"mark":"point"},
 {"width":30.5,"height":1,"data":{"values":[]},"mark":"point"},
 {"width":1.5,"height":192.7,"data":{"values":[]},"mark":"point","view":{"fill":"#7F7F7F","fillOpacity":1}},

 {"width":1.5,"height":1.5,"data":{"values":[]},"mark":"point","view":{"fill":"#7F7F7F","fillOpacity":1}},
 {"width":34.5,"height":1,"data":{"values":[]},"mark":"point"},
 {"width":27,"height":1.5,"data":{"values":[]},"mark":"point","view":{"fill":"#F2AE74","fillOpacity":1}},
 {"width":25.3,"height":1.5,"data":{"values":[]},"mark":"point","view":{"fill":"#F2AE74","fillOpacity":1}},
 {"width":280,"height":1.5,"data":{"values":[]},"mark":"point","view":{"fill":"#F2AE74","fillOpacity":1}},
 {"width":92.7,"height":1.5,"data":{"values":[]},"mark":"point","view":{"fill":"#F2AE74","fillOpacity":1}},
 {"width":272,"height":1.5,"data":{"values":[]},"mark":"point","view":{"fill":"#F2AE74","fillOpacity":1}},
 {"width":5,"height":1.5,"data":{"values":[]},"mark":"point","view":{"fill":"#F2AE74","fillOpacity":1}},
 {"width":32,"height":1.5,"data":{"values":[]},"mark":"point","view":{"fill":"#F2AE74","fillOpacity":1}},
 {"width":30.5,"height":1,"data":{"values":[]},"mark":"point"},
 {"width":1.5,"height":1.5,"data":{"values":[]},"mark":"point","view":{"fill":"#7F7F7F","fillOpacity":1}},

 {"width":1.5,"height":37.5,"data":{"values":[]},"mark":"point","view":{"fill":"#7F7F7F","fillOpacity":1}},
 {"width":34.5,"height":1,"data":{"values":[]},"mark":"point"},
 {"width":27,"height":1,"data":{"values":[]},"mark":"point"},
 {"width":25.3,"height":1,"data":{"values":[]},"mark":"point"},
 {"width":280,"height":1,"data":{"values":[]},"mark":"point"},
 {"width":92.7,"height":1,"data":{"values":[]},"mark":"point"},
 {"width":272,"height":1,"data":{"values":[]},"mark":"point"},
 {"width":5,"height":1,"data":{"values":[]},"mark":"point"},
 {"width":32,"height":1,"data":{"values":[]},"mark":"point"},
 {"width":30.5,"height":1,"data":{"values":[]},"mark":"point"},
 {"width":1.5,"height":37.5,"data":{"values":[]},"mark":"point","view":{"fill":"#7F7F7F","fillOpacity":1}},

 {"width":1.5,"height":193,"data":{"values":[]},"mark":"point","view":{"fill":"#7F7F7F","fillOpacity":1}},
 {"width":34.5,"height":1,"data":{"values":[]},"mark":"point"},
 {"width":27,"height":1,"data":{"values":[]},"mark":"point"},
 {"width":25.3,"height":1,"data":{"values":[]},"mark":"point"},
 {"width": 280, "height": 123.3,
  "title": {"text": "石油石化环比上行的指标", "offset": -13.3, "dx": -4},
  "layer": [
   {"data": {"name": "c1"}, "mark": {"type": "line", "strokeWidth": 1.6},
    "encoding": {
     "x": {"field": "d", "type": "temporal", "title": null, "scale": {"domain": [{"year": 2018, "month": 3, "date": 1}, {"year": 2024, "month": 12, "date": 10}]}, "axis": {"values": [{"year":2018,"month":3,"date":1},{"year":2019,"month":3,"date":1},{"year":2020,"month":3,"date":1},{"year":2021,"month":3,"date":1},{"year":2022,"month":3,"date":1},{"year":2023,"month":3,"date":1},{"year":2024,"month":3,"date":1}], "format": "%Y/%-m", "labelFontSize": 8, "labelPadding": 1}},
     "y": {"field": "v", "type": "quantitative", "title": null, "scale": {"domain": [0, 140]}, "axis": {"values": [0,20,40,60,80,100,120,140]}},
     "color": {"datum": "期货结算价(连续):WTI原油(美元/桶)", "scale": {"domain": ["期货结算价(连续):WTI原油(美元/桶)", "钻机数量:亚太:当月值(部，右轴)"], "range": ["#F59E1B", "#B8333A"]}, "legend": {"orient": "none", "legendX": -9.3, "legendY": 142.1, "columns": 2, "columnPadding": 0}}
    }},
   {"data": {"name": "c2"}, "mark": {"type": "line", "strokeWidth": 1.6, "interpolate": "step-after"},
    "encoding": {
     "x": {"field": "d", "type": "temporal"},
     "y": {"field": "v", "type": "quantitative", "title": null, "scale": {"domain": [0, 300]}, "axis": {"orient": "right", "values": [0,50,100,150,200,250,300]}},
     "color": {"datum": "钻机数量:亚太:当月值(部，右轴)"}
    }}
  ],
  "resolve": {"scale": {"y": "independent"}}},
 {"width":92.7,"height":1,"data":{"values":[]},"mark":"point"},
 {"width": 272, "height": 129,
  "title": {"text": "石油石化环比下行的指标", "offset": -8.3, "dx": -14},
  "layer": [
   {"data": {"name": "d1"}, "mark": {"type": "line", "strokeWidth": 1.6},
    "encoding": {
     "x": {"field": "d", "type": "temporal", "title": null, "scale": {"domain": [{"year": 2018, "month": 3, "date": 1}, {"year": 2024, "month": 12, "date": 10}]}, "axis": {"values": [{"year":2018,"month":3,"date":1},{"year":2019,"month":3,"date":1},{"year":2020,"month":3,"date":1},{"year":2021,"month":3,"date":1},{"year":2022,"month":3,"date":1},{"year":2023,"month":3,"date":1},{"year":2024,"month":3,"date":1}], "format": "%Y/%-m", "labelFontSize": 9.5, "labelPadding": 3}},
     "y": {"field": "v", "type": "quantitative", "title": null, "scale": {"domain": [0, 12000], "range": [129, 25]}, "axis": {"values": [0,2000,4000,6000,8000,10000,12000], "format": "d"}},
     "color": {"datum": "中国:山东地区:市场价(主流价):丙烯(元/吨)", "scale": {"domain": ["中国:山东地区:市场价(主流价):丙烯(元/吨)", "钻机数量:美国:当月值(部，右轴)"], "range": ["#F59E1B", "#B8333A"]}, "legend": {"orient": "none", "legendX": -26, "legendY": 143.5, "columns": 2, "columnPadding": 0}}
    }},
   {"data": {"name": "d2"}, "mark": {"type": "line", "strokeWidth": 1.6},
    "encoding": {
     "x": {"field": "d", "type": "temporal"},
     "y": {"field": "v", "type": "quantitative", "title": null, "scale": {"domain": [0, 1200], "range": [129, 25]}, "axis": {"orient": "right", "values": [0,200,400,600,800,1000,1200], "format": "d"}},
     "color": {"datum": "钻机数量:美国:当月值(部，右轴)"}
    }}
  ],
  "resolve": {"scale": {"y": "independent"}}},
 {"width":5,"height":1,"data":{"values":[]},"mark":"point"},
 {"width":32,"height":1,"data":{"values":[]},"mark":"point"},
 {"width":30.5,"height":1,"data":{"values":[]},"mark":"point"},
 {"width":1.5,"height":193,"data":{"values":[]},"mark":"point","view":{"fill":"#7F7F7F","fillOpacity":1}},

 {"width":1.5,"height":1.5,"data":{"values":[]},"mark":"point","view":{"fill":"#7F7F7F","fillOpacity":1}},
 {"width":34.5,"height":1,"data":{"values":[]},"mark":"point"},
 {"width":27,"height":1.5,"data":{"values":[]},"mark":"point","view":{"fill":"#F2AE74","fillOpacity":1}},
 {"width":25.3,"height":1.5,"data":{"values":[]},"mark":"point","view":{"fill":"#F2AE74","fillOpacity":1}},
 {"width":280,"height":1.5,"data":{"values":[]},"mark":"point","view":{"fill":"#F2AE74","fillOpacity":1}},
 {"width":92.7,"height":1.5,"data":{"values":[]},"mark":"point","view":{"fill":"#F2AE74","fillOpacity":1}},
 {"width":272,"height":1.5,"data":{"values":[]},"mark":"point","view":{"fill":"#F2AE74","fillOpacity":1}},
 {"width":5,"height":1.5,"data":{"values":[]},"mark":"point","view":{"fill":"#F2AE74","fillOpacity":1}},
 {"width":32,"height":1.5,"data":{"values":[]},"mark":"point","view":{"fill":"#F2AE74","fillOpacity":1}},
 {"width":30.5,"height":1,"data":{"values":[]},"mark":"point"},
 {"width":1.5,"height":1.5,"data":{"values":[]},"mark":"point","view":{"fill":"#7F7F7F","fillOpacity":1}},

 {"width":1.5,"height":36.5,"data":{"values":[]},"mark":"point","view":{"fill":"#7F7F7F","fillOpacity":1}},
 {"width":34.5,"height":1,"data":{"values":[]},"mark":"point"},
 {"width":27,"height":1,"data":{"values":[]},"mark":"point"},
 {"width":25.3,"height":1,"data":{"values":[]},"mark":"point"},
 {"width":280,"height":1,"data":{"values":[]},"mark":"point"},
 {"width":92.7,"height":1,"data":{"values":[]},"mark":"point"},
 {"width":272,"height":1,"data":{"values":[]},"mark":"point"},
 {"width":5,"height":1,"data":{"values":[]},"mark":"point"},
 {"width":32,"height":1,"data":{"values":[]},"mark":"point"},
 {"width":30.5,"height":1,"data":{"values":[]},"mark":"point"},
 {"width":1.5,"height":36.5,"data":{"values":[]},"mark":"point","view":{"fill":"#7F7F7F","fillOpacity":1}},

 {"width":1.5,"height":192.5,"data":{"values":[]},"mark":"point","view":{"fill":"#7F7F7F","fillOpacity":1}},
 {"width":34.5,"height":1,"data":{"values":[]},"mark":"point"},
 {"width":27,"height":1,"data":{"values":[]},"mark":"point"},
 {"width":25.3,"height":1,"data":{"values":[]},"mark":"point"},
 {"width": 280, "height": 123.3,
  "title": {"text": "基础化工环比上行的指标", "offset": -12.7, "dx": -4.5},
  "layer": [
   {"data": {"name": "e1"}, "mark": {"type": "line", "strokeWidth": 1.6},
    "encoding": {
     "x": {"field": "d", "type": "temporal", "title": null, "scale": {"domain": [{"year": 2018, "month": 3, "date": 1}, {"year": 2024, "month": 12, "date": 10}]}, "axis": {"values": [{"year":2018,"month":3,"date":1},{"year":2019,"month":3,"date":1},{"year":2020,"month":3,"date":1},{"year":2021,"month":3,"date":1},{"year":2022,"month":3,"date":1},{"year":2023,"month":3,"date":1},{"year":2024,"month":3,"date":1}], "format": "%Y/%-m", "labelFontSize": 8, "labelPadding": 1}},
     "y": {"field": "v", "type": "quantitative", "title": null, "scale": {"domain": [0, 120]}, "axis": {"values": [0,20,40,60,80,100,120]}},
     "color": {"datum": "中国:精对苯二甲酸产业链开工率:PTA工厂(%)", "scale": {"domain": ["中国:精对苯二甲酸产业链开工率:PTA工厂(%)", "中国:出口平均单价:间苯二酚(29072100):当月值(美元/千克，右轴)"], "range": ["#F59E1B", "#B8333A"]}, "legend": {"orient": "none", "legendX": 17.7, "legendY": 134.5, "columns": 1, "rowPadding": -13}}
    }},
   {"data": {"name": "e2"}, "mark": {"type": "line", "strokeWidth": 1.6, "interpolate": "step-after"},
    "encoding": {
     "x": {"field": "d", "type": "temporal"},
     "y": {"field": "v", "type": "quantitative", "title": null, "scale": {"domain": [0, 15]}, "axis": {"orient": "right", "values": [0,5,10,15]}},
     "color": {"datum": "中国:出口平均单价:间苯二酚(29072100):当月值(美元/千克，右轴)"}
    }}
  ],
  "resolve": {"scale": {"y": "independent"}}},
 {"width":92.7,"height":1,"data":{"values":[]},"mark":"point"},
 {"width": 272, "height": 130,
  "title": {"text": "基础化工环比下行的指标", "offset": -7.7, "dx": -14},
  "layer": [
   {"data": {"name": "f1"}, "mark": {"type": "line", "strokeWidth": 1.6},
    "encoding": {
     "x": {"field": "d", "type": "temporal", "title": null, "scale": {"domain": [{"year": 2018, "month": 3, "date": 1}, {"year": 2024, "month": 12, "date": 10}]}, "axis": {"values": [{"year":2018,"month":3,"date":1},{"year":2019,"month":3,"date":1},{"year":2020,"month":3,"date":1},{"year":2021,"month":3,"date":1},{"year":2022,"month":3,"date":1},{"year":2023,"month":3,"date":1},{"year":2024,"month":3,"date":1}], "format": "%Y/%-m", "labelFontSize": 9, "labelPadding": 3}},
     "y": {"field": "v", "type": "quantitative", "title": null, "scale": {"domain": [0, 4000], "range": [130, 24]}, "axis": {"values": [0,500,1000,1500,2000,2500,3000,3500,4000], "format": "d"}},
     "color": {"datum": "期货结算价(活跃合约):纯碱(元/吨)", "scale": {"domain": ["期货结算价(活跃合约):纯碱(元/吨)"], "range": ["#F59E1B"]}, "legend": {"orient": "none", "legendX": 58, "legendY": 144.1}}
    }},
   {"data": {"values": []}, "mark": {"type": "line"},
    "encoding": {
     "x": {"field": "d", "type": "temporal"},
     "y": {"field": "v", "type": "quantitative", "title": null, "scale": {"domain": [0, 1.2], "range": [130, 24]}, "axis": {"orient": "right", "values": [0,0.2,0.4,0.6,0.8,1,1.2], "format": "~f"}}
    }}
  ],
  "resolve": {"scale": {"y": "independent"}}},
 {"width":5,"height":1,"data":{"values":[]},"mark":"point"},
 {"width":32,"height":1,"data":{"values":[]},"mark":"point"},
 {"width":30.5,"height":1,"data":{"values":[]},"mark":"point"},
 {"width":1.5,"height":192.5,"data":{"values":[]},"mark":"point","view":{"fill":"#7F7F7F","fillOpacity":1}},

 {"width":1.5,"height":1.5,"data":{"values":[]},"mark":"point","view":{"fill":"#7F7F7F","fillOpacity":1}},
 {"width":34.5,"height":1,"data":{"values":[]},"mark":"point"},
 {"width":27,"height":1.5,"data":{"values":[]},"mark":"point","view":{"fill":"#F2AE74","fillOpacity":1}},
 {"width":25.3,"height":1.5,"data":{"values":[]},"mark":"point","view":{"fill":"#F2AE74","fillOpacity":1}},
 {"width":280,"height":1.5,"data":{"values":[]},"mark":"point","view":{"fill":"#F2AE74","fillOpacity":1}},
 {"width":92.7,"height":1.5,"data":{"values":[]},"mark":"point","view":{"fill":"#F2AE74","fillOpacity":1}},
 {"width":272,"height":1.5,"data":{"values":[]},"mark":"point","view":{"fill":"#F2AE74","fillOpacity":1}},
 {"width":5,"height":1.5,"data":{"values":[]},"mark":"point","view":{"fill":"#F2AE74","fillOpacity":1}},
 {"width":32,"height":1.5,"data":{"values":[]},"mark":"point","view":{"fill":"#F2AE74","fillOpacity":1}},
 {"width":30.5,"height":1,"data":{"values":[]},"mark":"point"},
 {"width":1.5,"height":1.5,"data":{"values":[]},"mark":"point","view":{"fill":"#7F7F7F","fillOpacity":1}},

 {"width":1.5,"height":118.5,"data":{"values":[]},"mark":"point","view":{"fill":"#7F7F7F","fillOpacity":1}},
 {"width":34.5,"height":1,"data":{"values":[]},"mark":"point"},
 {"width":27,"height":1,"data":{"values":[]},"mark":"point"},
 {"width":25.3,"height":1,"data":{"values":[]},"mark":"point"},
 {"width":280,"height":1,"data":{"values":[]},"mark":"point"},
 {"width":92.7,"height":1,"data":{"values":[]},"mark":"point"},
 {"width":272,"height":1,"data":{"values":[]},"mark":"point"},
 {"width":5,"height":1,"data":{"values":[]},"mark":"point"},
 {"width":32,"height":1,"data":{"values":[]},"mark":"point"},
 {"width":30.5,"height":1,"data":{"values":[]},"mark":"point"},
 {"width":1.5,"height":118.5,"data":{"values":[]},"mark":"point","view":{"fill":"#7F7F7F","fillOpacity":1}},

 {"width":1.5,"height":2,"data":{"values":[]},"mark":"point","view":{"fill":"#7F7F7F","fillOpacity":1}},
 {"width":34.5,"height":1,"data":{"values":[]},"mark":"point"},
 {"width":27,"height":1,"data":{"values":[]},"mark":"point"},
 {"width":25.3,"height":2,"data":{"values":[]},"mark":"point","view":{"fill":"#E59A2E","fillOpacity":1},
  "title": {"text": "请务必阅读正文之后的信息披露和免责申明", "orient": "bottom", "anchor": "start", "dx": 34, "offset": 4.5, "fontSize": 12, "fontWeight": "normal", "color": "#404040", "font": "Noto Sans CJK SC"}},
 {"width":280,"height":2,"data":{"values":[]},"mark":"point","view":{"fill":"#E59A2E","fillOpacity":1}},
 {"width":92.7,"height":2,"data":{"values":[]},"mark":"point","view":{"fill":"#E59A2E","fillOpacity":1}},
 {"width":272,"height":2,"data":{"values":[]},"mark":"point","view":{"fill":"#E59A2E","fillOpacity":1},
  "title": {"text": "5", "orient": "bottom", "anchor": "end", "dx": -1, "offset": 4.5, "fontSize": 12, "fontWeight": "normal", "color": "#404040", "font": "Noto Sans CJK SC"}},
 {"width":5,"height":2,"data":{"values":[]},"mark":"point","view":{"fill":"#E59A2E","fillOpacity":1}},
 {"width":32,"height":1,"data":{"values":[]},"mark":"point"},
 {"width":30.5,"height":1,"data":{"values":[]},"mark":"point"},
 {"width":1.5,"height":2,"data":{"values":[]},"mark":"point","view":{"fill":"#7F7F7F","fillOpacity":1}},

 {"width":1.5,"height":36,"data":{"values":[]},"mark":"point","view":{"fill":"#7F7F7F","fillOpacity":1}},
 {"width":34.5,"height":1,"data":{"values":[]},"mark":"point"},
 {"width":27,"height":1,"data":{"values":[]},"mark":"point"},
 {"width":25.3,"height":1,"data":{"values":[]},"mark":"point"},
 {"width":280,"height":1,"data":{"values":[]},"mark":"point"},
 {"width":92.7,"height":1,"data":{"values":[]},"mark":"point"},
 {"width":272,"height":1,"data":{"values":[]},"mark":"point"},
 {"width":5,"height":1,"data":{"values":[]},"mark":"point"},
 {"width":32,"height":1,"data":{"values":[]},"mark":"point"},
 {"width":30.5,"height":1,"data":{"values":[]},"mark":"point"},
 {"width":1.5,"height":36,"data":{"values":[]},"mark":"point","view":{"fill":"#7F7F7F","fillOpacity":1}},

 {"width":1.5,"height":1.5,"data":{"values":[]},"mark":"point","view":{"fill":"#7F7F7F","fillOpacity":1}},
 {"width":34.5,"height":1.5,"data":{"values":[]},"mark":"point","view":{"fill":"#7F7F7F","fillOpacity":1}},
 {"width":27,"height":1.5,"data":{"values":[]},"mark":"point","view":{"fill":"#7F7F7F","fillOpacity":1}},
 {"width":25.3,"height":1.5,"data":{"values":[]},"mark":"point","view":{"fill":"#7F7F7F","fillOpacity":1}},
 {"width":280,"height":1.5,"data":{"values":[]},"mark":"point","view":{"fill":"#7F7F7F","fillOpacity":1}},
 {"width":92.7,"height":1.5,"data":{"values":[]},"mark":"point","view":{"fill":"#7F7F7F","fillOpacity":1}},
 {"width":272,"height":1.5,"data":{"values":[]},"mark":"point","view":{"fill":"#7F7F7F","fillOpacity":1}},
 {"width":5,"height":1.5,"data":{"values":[]},"mark":"point","view":{"fill":"#7F7F7F","fillOpacity":1}},
 {"width":32,"height":1.5,"data":{"values":[]},"mark":"point","view":{"fill":"#7F7F7F","fillOpacity":1}},
 {"width":30.5,"height":1.5,"data":{"values":[]},"mark":"point","view":{"fill":"#7F7F7F","fillOpacity":1}},
 {"width":1.5,"height":1.5,"data":{"values":[]},"mark":"point","view":{"fill":"#7F7F7F","fillOpacity":1}}
]
}
